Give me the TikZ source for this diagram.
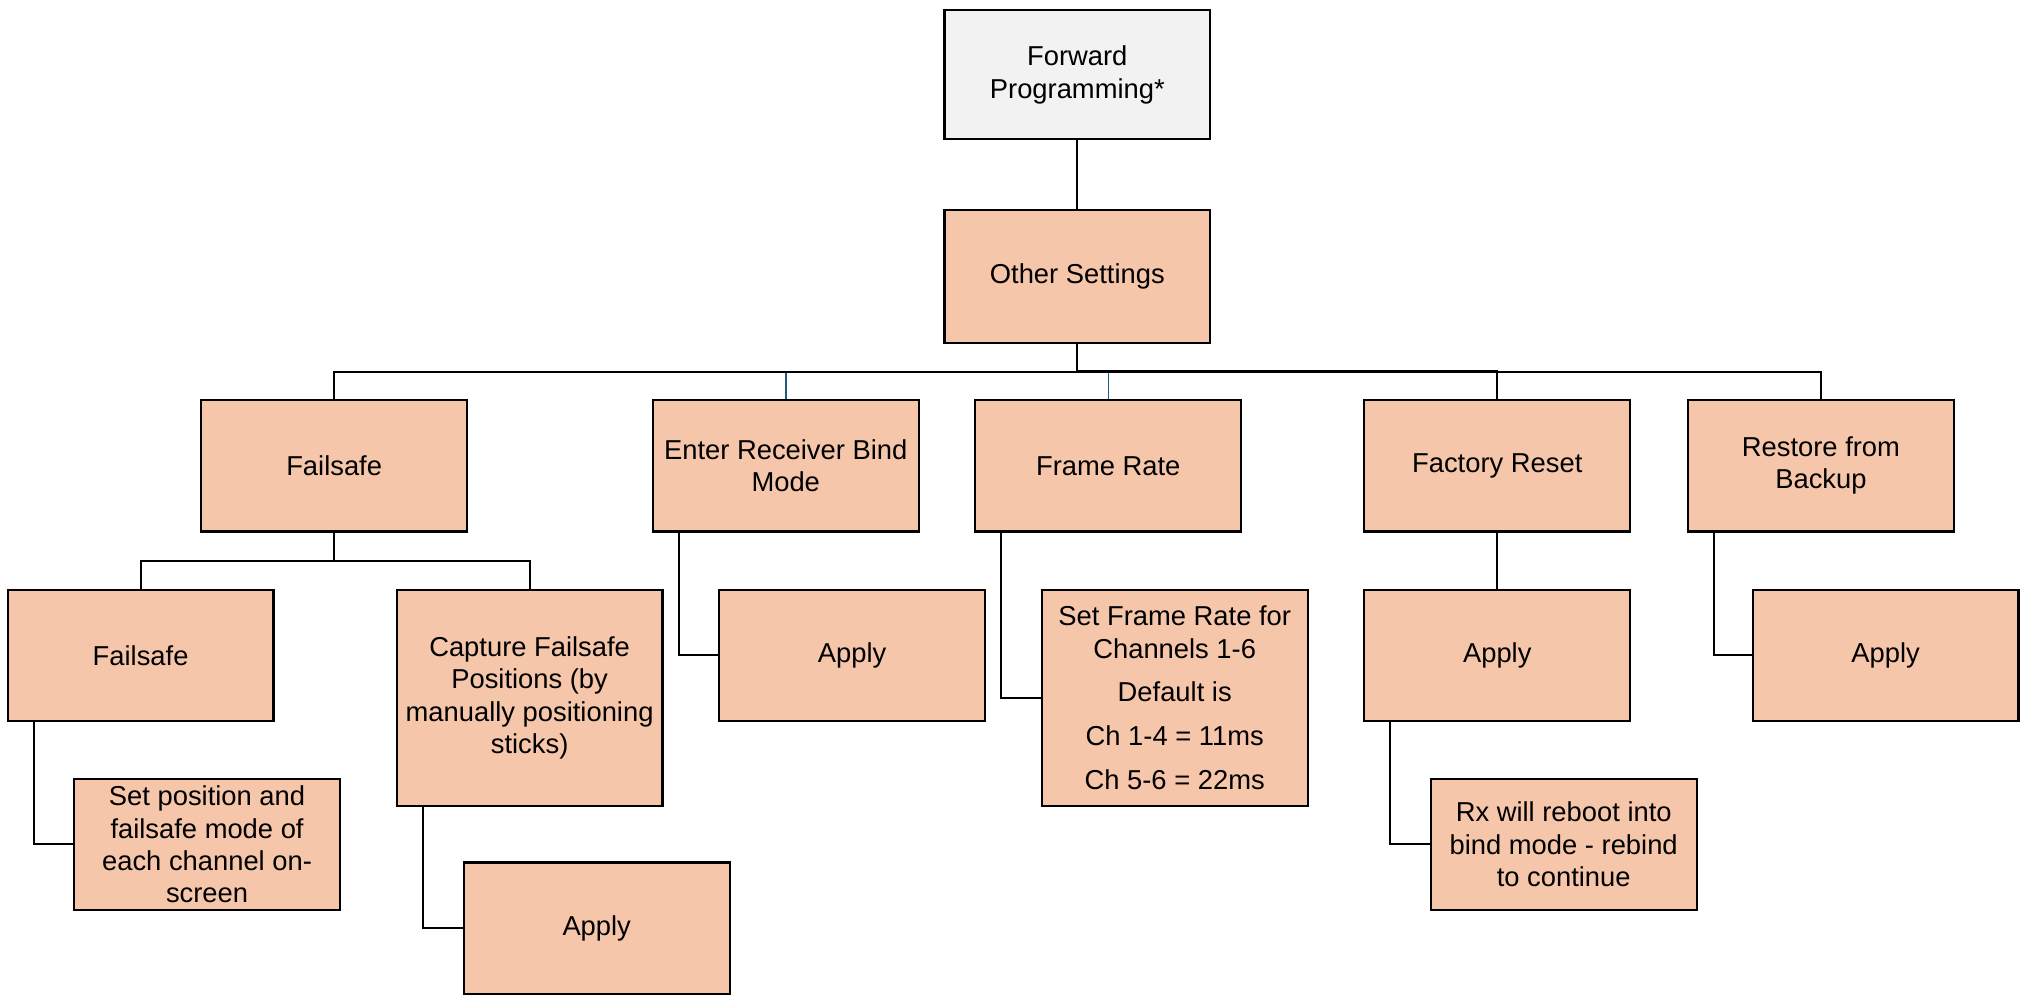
\documentclass[tikz,border=0pt]{standalone}
\usepackage{fontspec}
\setmainfont{Liberation Sans}
\definecolor{peach}{HTML}{F5C6AA}
\definecolor{lightg}{HTML}{F2F2F2}
\definecolor{linkblue}{HTML}{1F5C7A}
\begin{document}
\begin{tikzpicture}[x=1pt,y=-1pt,
  box/.style={draw=black,line width=1.7pt,fill=peach,minimum width=206pt,minimum height=102pt,inner sep=0pt,align=center,font=\fontsize{21.2}{25}\selectfont},
  tallbox/.style={box,minimum height=168pt},
  conn/.style={draw=black,line width=1.6pt},
  bconn/.style={draw=linkblue,line width=1.2pt}]
\useasboundingbox (0,0) rectangle (1568,773);
% level 0
\node[box,fill=lightg,minimum height=100pt] (fp) at (835,58) {Forward\\Programming*};
\node[box,minimum height=103pt] (os) at (835,214.5) {Other Settings};
% level 1
\node[box] (fs1) at (259,361) {Failsafe};
\node[box] (bind) at (609,361) {Enter Receiver Bind\\Mode};
\node[box] (fr) at (859,361) {Frame Rate};
\node[box] (reset) at (1160.5,361) {Factory Reset};
\node[box] (restore) at (1411.4,361) {Restore from\\Backup};
% level 2
\node[box] (fs2) at (109,508) {Failsafe};
\node[tallbox] (capture) at (410.5,541) {Capture Failsafe\\Positions (by\\manually positioning\\sticks)};
\node[box] (setpos) at (160.5,654.5) {Set position and\\failsafe mode of\\each channel on-\\screen};
\node[box] (apply1) at (462.5,719.5) {Apply};
\node[box] (apply2) at (660.5,508) {Apply};
\node[tallbox] (frset) at (910.5,541) {Set Frame Rate for\\Channels 1-6\\[9pt]Default is\\[9pt]Ch 1-4 = 11ms\\[9pt]Ch 5-6 = 22ms};
\node[box] (apply3) at (1160.5,508) {Apply};
\node[box] (rx) at (1212,654.5) {Rx will reboot into\\bind mode - rebind\\to continue};
\node[box] (apply4) at (1461.5,508) {Apply};
% connectors
\coordinate (busL) at (835,288);
\draw[conn] (fp.south) -- (os.north);
\draw[conn] (os.south) -- (busL);
\draw[bconn] (bind.north) -- (bind.north |- busL);
\draw[bconn] (fr.north) -- (fr.north |- busL);
\draw[conn] (busL) -| (fs1.north);
\draw[conn,line width=1.9pt] (busL) -| (reset.north);
\draw[conn] (busL) -| (restore.north);
\coordinate (busF) at (259,435);
\draw[conn] (fs1.south) -- (busF);
\draw[conn] (busF) -| (fs2.north);
\draw[conn] (busF) -| (capture.north);
\draw[conn] ([xshift=21pt]fs2.south west) |- (setpos.west);
\draw[conn] ([xshift=21pt]capture.south west) |- (apply1.west);
\draw[conn] ([xshift=21pt]bind.south west) |- (apply2.west);
\draw[conn] ([xshift=21pt]fr.south west) |- (frset.west);
\draw[conn] (reset.south) -- (apply3.north);
\draw[conn] ([xshift=21pt]apply3.south west) |- (rx.west);
\draw[conn] ([xshift=21pt]restore.south west) |- (apply4.west);
\end{tikzpicture}
\end{document}
